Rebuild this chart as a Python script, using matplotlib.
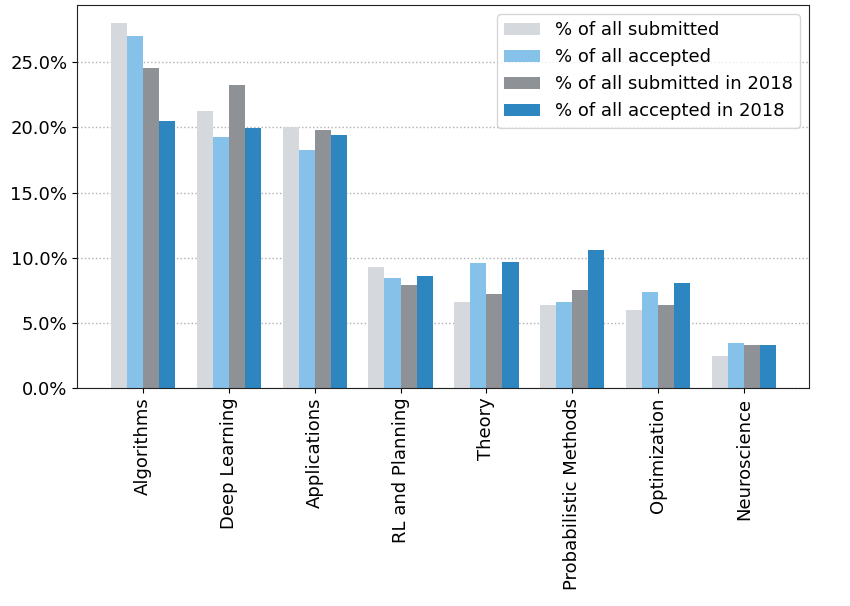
import matplotlib
matplotlib.use("Agg")
import matplotlib.pyplot as plt
import numpy as np
from matplotlib.ticker import FuncFormatter

categories = ["Algorithms", "Deep Learning", "Applications", "RL and Planning",
              "Theory", "Probabilistic Methods", "Optimization", "Neuroscience"]
series_names = ["% of all submitted", "% of all accepted",
                "% of all submitted in 2018", "% of all accepted in 2018"]
submitted = [28.0, 21.3, 20.0, 9.26, 6.62, 6.34, 6.01, 2.46]
accepted = [27.06, 19.3, 18.24, 8.41, 9.56, 6.62, 7.37, 3.48]
submitted_2018 = [24.6, 23.25, 19.8, 7.93, 7.24, 7.52, 6.37, 3.28]
accepted_2018 = [20.5, 19.95, 19.4, 8.57, 9.67, 10.59, 8.03, 3.28]
colors = ["#d5d8dc", "#85c1e9", "#8e9196", "#2e86c1"]

plt.rcParams['font.family'] = ['DejaVu Sans']
fig = plt.figure(figsize=(8.5, 6.06), dpi=100)
ax = fig.add_axes([0.0906, 0.3597, 0.8612, 0.632])

x = np.arange(len(categories))
width = 0.1875
all_series = [submitted, accepted, submitted_2018, accepted_2018]
for i, (vals, name, c) in enumerate(zip(all_series, series_names, colors)):
    ax.bar(x + (i - 1.5) * width, vals, width, color=c, label=name, zorder=2)

ax.set_xticks(x)
ax.set_xticklabels(categories, rotation=90, fontsize=13)
ax.set_xlim(-0.77, len(categories) - 1 + 0.76)
ax.set_ylim(0, 29.4)
ax.set_yticks([0, 5, 10, 15, 20, 25])
ax.yaxis.set_major_formatter(FuncFormatter(lambda v, p: f"{v:.1f}%"))
ax.tick_params(axis='y', labelsize=13)
ax.set_axisbelow(True)
ax.yaxis.grid(True, linestyle=':', color='#b0b0b0', linewidth=1)
for s in ax.spines.values():
    s.set_color('#222222')

leg = ax.legend(loc='upper right', fontsize=13, frameon=True, fancybox=True,
                borderaxespad=0.5)
leg.get_frame().set_edgecolor('#cccccc')

fig.savefig("out.png", dpi=100)
